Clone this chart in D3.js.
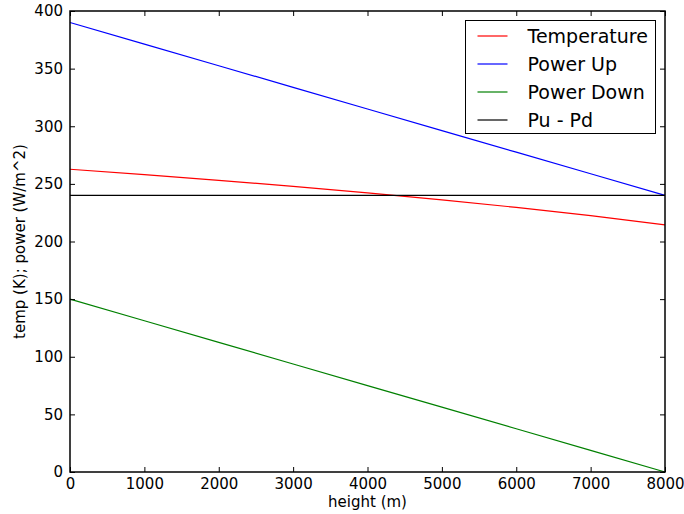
<!DOCTYPE html>
<html>
<head>
<meta charset="utf-8">
<script src="https://cdn.jsdelivr.net/npm/d3@7"></script>
<style>
    body { margin: 0; background: #fff; }
    text { font-family: "DejaVu Sans", sans-serif; fill: #000; }
</style>
</head>
<body>
<svg id="chart" width="684" height="514"></svg>
<script>

// values
let heights = [0, 1000, 2000, 3000, 4000, 5000, 6000, 7000, 8000]
let temperature = [262.7, 258.0, 253.1, 247.8, 242.2, 236.1, 229.6, 222.4, 214.5]
let power_up = [390, 371.25, 352.5, 333.75, 315, 296.25, 277.5, 258.75, 240]
let power_down = [150, 131.25, 112.5, 93.75, 75, 56.25, 37.5, 18.75, 0]
let pu_minus_pd = [240, 240, 240, 240, 240, 240, 240, 240, 240]

let x_ticks = [0, 1000, 2000, 3000, 4000, 5000, 6000, 7000, 8000]
let y_ticks = [0, 50, 100, 150, 200, 250, 300, 350, 400]

let series = [
    { name: "Temperature", values: temperature, color: "#ff0000" },
    { name: "Power Up", values: power_up, color: "#0000ff" },
    { name: "Power Down", values: power_down, color: "#008000" },
    { name: "Pu - Pd", values: pu_minus_pd, color: "#000000" }
]

let plot_left = 70, plot_right = 665, plot_top = 11, plot_bottom = 472

let svg = d3.select('#chart')

let x = d3.scaleLinear().domain([0, 8000]).range([plot_left, plot_right])
let y = d3.scaleLinear().domain([0, 400]).range([plot_bottom, plot_top])

let line = d3.line()
    .x((d, i) => x(heights[i]))
    .y((d) => y(d))

let plot = svg.append('g')

for (let s of series) {
    plot.append('path')
        .attr('d', line(s.values))
        .attr('fill', 'none')
        .attr('stroke', s.color)
        .attr('stroke-width', 1.2)
}

// ticks point inward on all four sides, labels only bottom / left
let fmt = d3.format('d')
let ax_bottom = svg.append('g').attr('transform', `translate(0,${plot_bottom})`)
    .call(d3.axisBottom(x).tickValues(x_ticks).tickFormat(fmt).tickSizeInner(-5).tickSizeOuter(0).tickPadding(6))
let ax_top = svg.append('g').attr('transform', `translate(0,${plot_top})`)
    .call(d3.axisTop(x).tickValues(x_ticks).tickSizeInner(-5).tickSizeOuter(0).tickFormat(''))
let ax_left = svg.append('g').attr('transform', `translate(${plot_left},0)`)
    .call(d3.axisLeft(y).tickValues(y_ticks).tickFormat(fmt).tickSizeInner(-5).tickSizeOuter(0).tickPadding(7))
let ax_right = svg.append('g').attr('transform', `translate(${plot_right},0)`)
    .call(d3.axisRight(y).tickValues(y_ticks).tickSizeInner(-5).tickSizeOuter(0).tickFormat(''))

for (let ax of [ax_bottom, ax_top, ax_left, ax_right]) {
    ax.select('.domain').remove()
    ax.selectAll('line').attr('stroke', '#000').attr('stroke-width', 1)
    ax.selectAll('text').attr('font-size', 15).attr('font-family', '"DejaVu Sans", sans-serif').attr('fill', '#000')
}
ax_bottom.selectAll('text').attr('dy', '0.71em')

svg.append('rect')
    .attr('x', plot_left).attr('y', plot_top)
    .attr('width', plot_right - plot_left).attr('height', plot_bottom - plot_top)
    .attr('fill', 'none').attr('stroke', '#000').attr('stroke-width', 1.5)

svg.append('text')
    .attr('x', (plot_left + plot_right) / 2).attr('y', 507)
    .attr('text-anchor', 'middle').attr('font-size', 15)
    .text('height (m)')

svg.append('text')
    .attr('transform', `translate(25,${(plot_top + plot_bottom) / 2}) rotate(-90)`)
    .attr('text-anchor', 'middle').attr('font-size', 15)
    .text('temp (K); power (W/m^2)')

// legend
let legend = svg.append('g').attr('transform', 'translate(465.5,20.5)')
legend.append('rect')
    .attr('width', 190).attr('height', 113)
    .attr('fill', '#fff').attr('stroke', '#000').attr('stroke-width', 1)

series.forEach((s, i) => {
    let ly = 15.5 + i * 28
    legend.append('line')
        .attr('x1', 12).attr('x2', 42).attr('y1', ly).attr('y2', ly)
        .attr('stroke', s.color).attr('stroke-width', 1.2)
    legend.append('text')
        .attr('x', 62).attr('y', ly).attr('dy', '0.36em')
        .attr('font-size', 19)
        .text(s.name)
})

</script>
</body>
</html>
